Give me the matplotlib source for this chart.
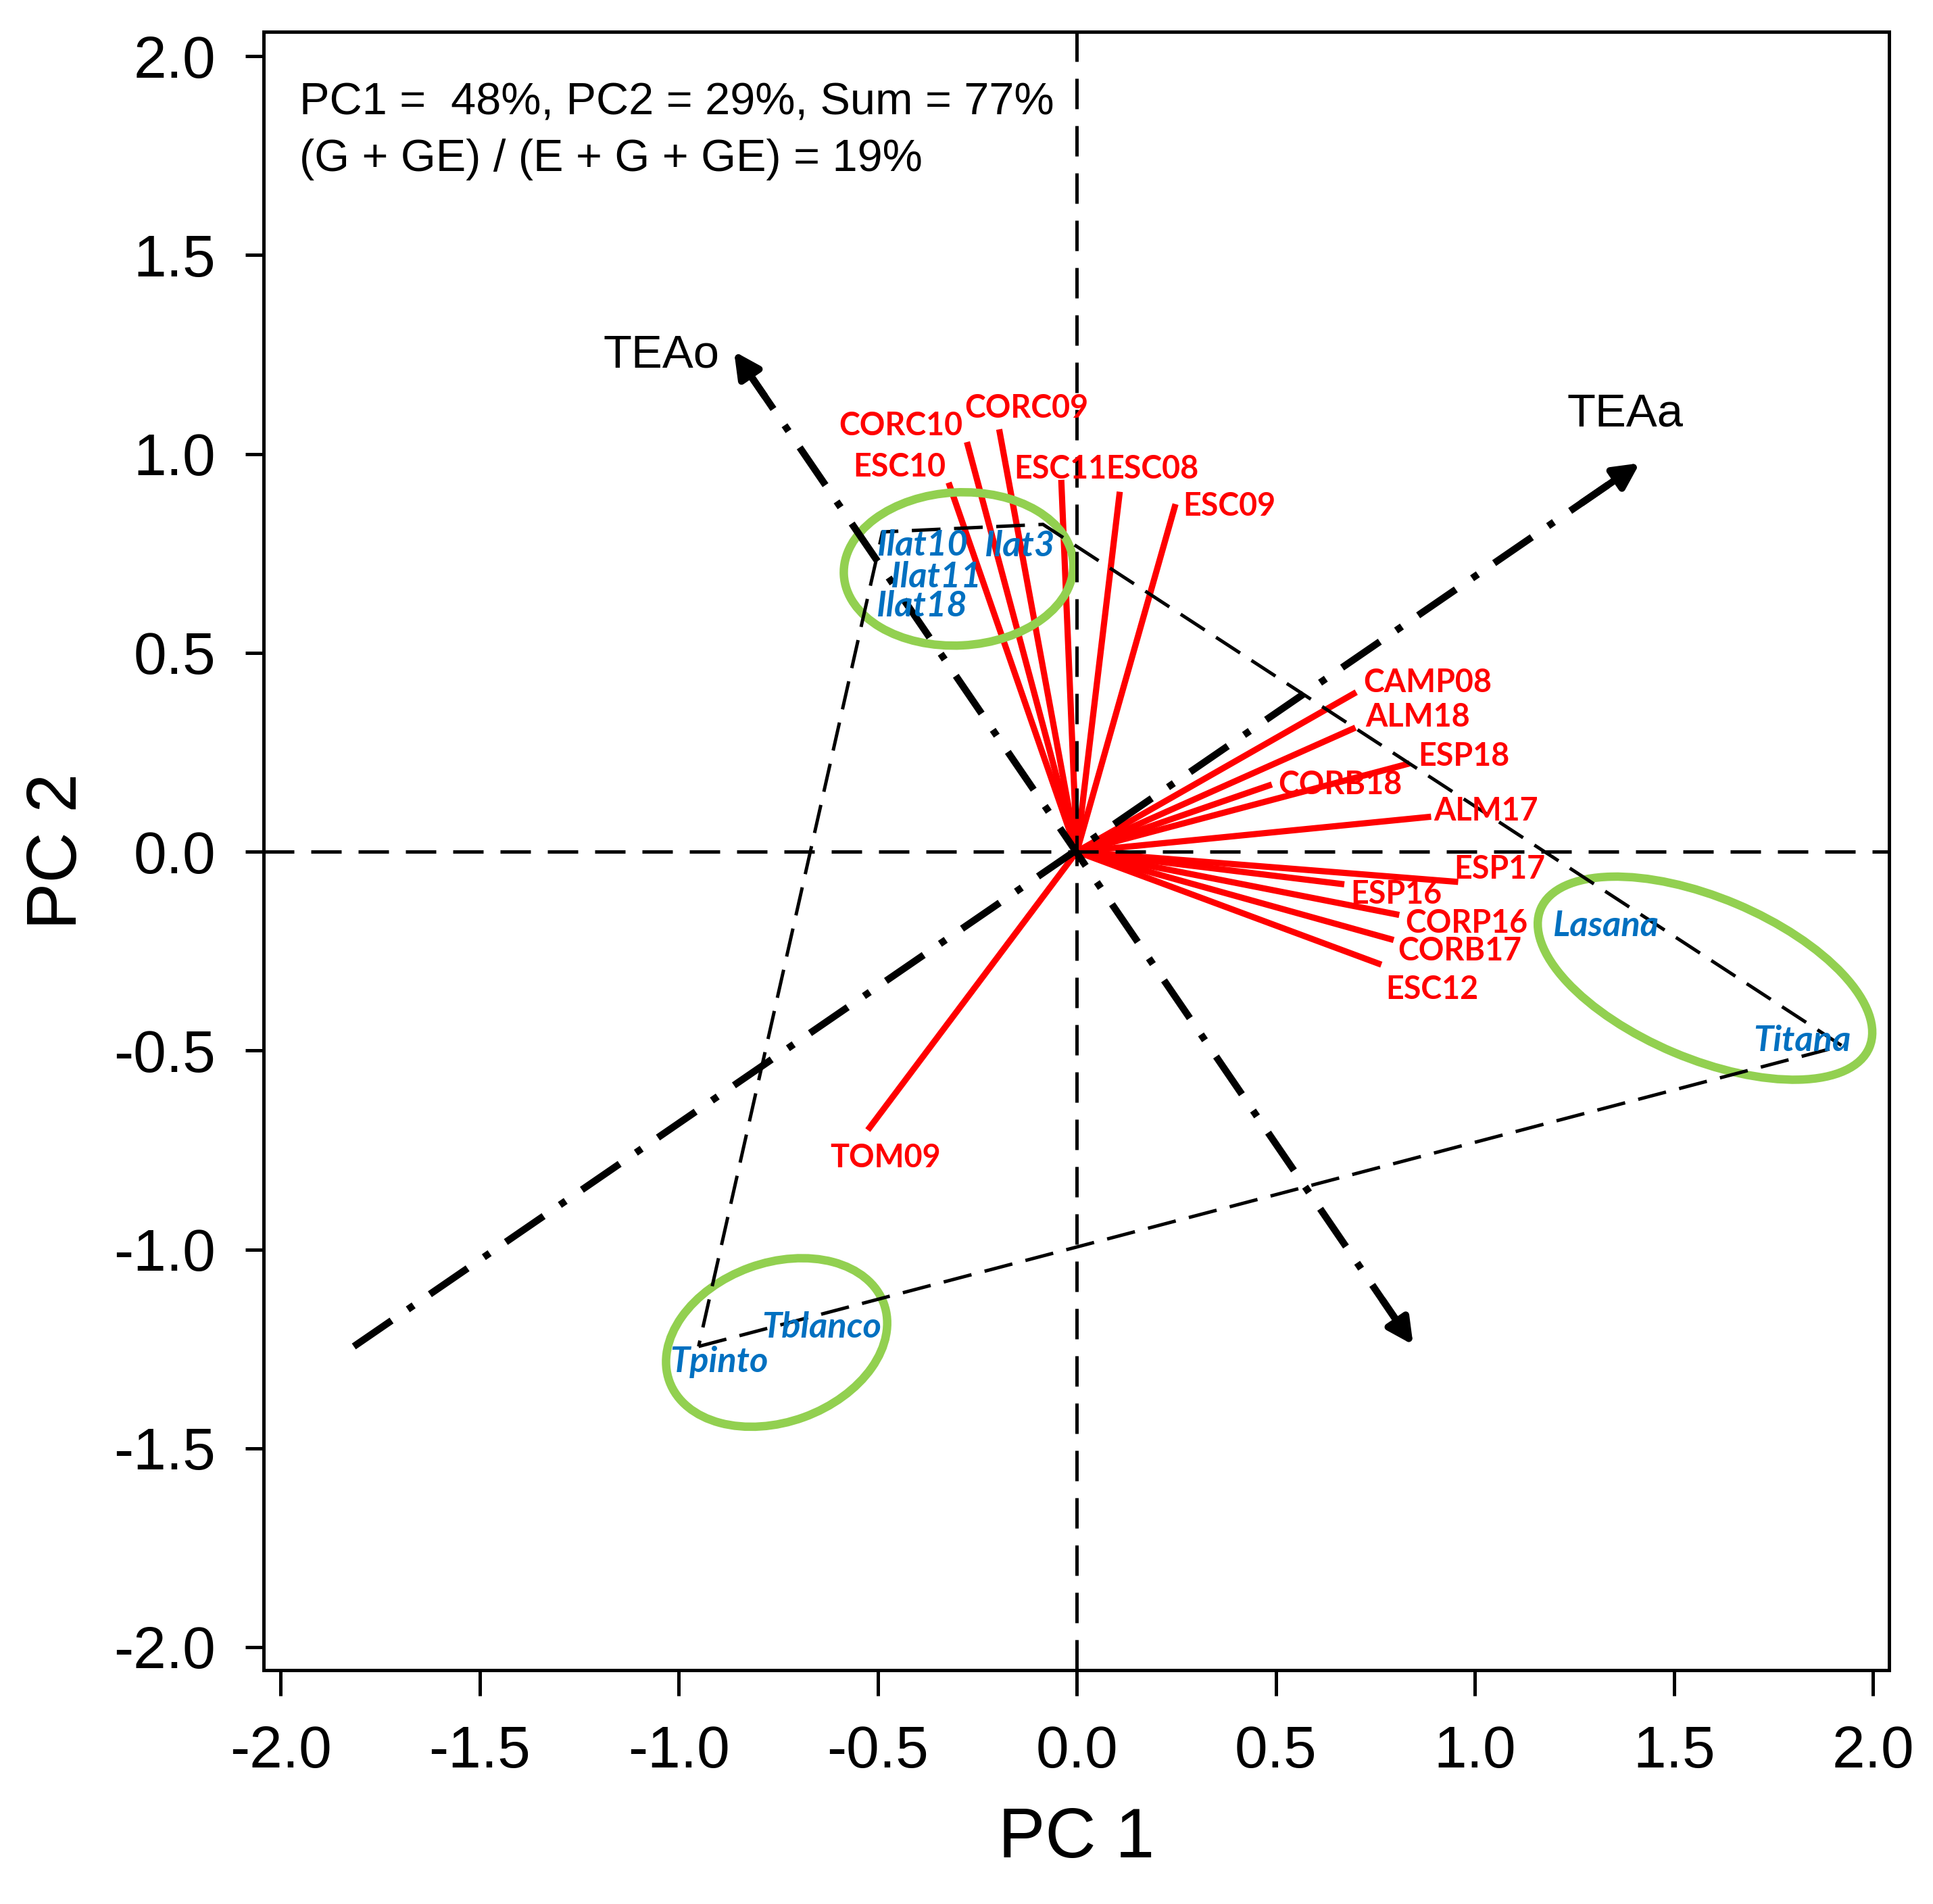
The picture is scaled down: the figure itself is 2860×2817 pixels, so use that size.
import matplotlib.pyplot as plt
from matplotlib.patches import Ellipse

plt.rcParams['font.family'] = ['Liberation Sans', 'DejaVu Sans']
plt.rcParams['axes.unicode_minus'] = False

# environment vectors (red)
env_names = ['CORC10', 'CORC09', 'ESC10', 'ESC11', 'ESC08', 'ESC09', 'CAMP08', 'ALM18', 'ESP18',
             'CORB18', 'ALM17', 'ESP17', 'ESP16', 'CORP16', 'CORB17', 'ESC12', 'TOM09']
env_pc1 = [-0.276, -0.195, -0.322, -0.039, 0.108, 0.248, 0.702, 0.700, 0.836,
           0.490, 0.890, 0.958, 0.672, 0.810, 0.796, 0.765, -0.525]
env_pc2 = [1.030, 1.062, 0.928, 0.935, 0.905, 0.874, 0.401, 0.312, 0.222,
           0.169, 0.088, -0.076, -0.082, -0.159, -0.222, -0.284, -0.700]

# genotypes (blue)
gen_names = ['Ilat10', 'Ilat3', 'Ilat11', 'Ilat18', 'Tpinto', 'Tblanco', 'Lasana', 'Titana']
gen_pc1 = [-0.488, -0.085, -0.46, -0.50, -0.950, -0.79, 1.20, 1.922]
gen_pc2 = [0.804, 0.823, 0.73, 0.655, -1.244, -1.155, -0.15, -0.488]

# average environment axis and its orthogonal
teaa_x = [-1.816, 1.414]
teaa_y = [-1.244, 0.977]
teao_x = [-0.861, 0.845]
teao_y = [1.258, -1.240]

pc1_pct, pc2_pct, ge_pct = 48, 29, 19

# label placement (offset from the point, text baseline)
env_off = {'CORC10': (-0.166, 0.017), 'CORC09': (0.069, 0.029), 'ESC10': (-0.123, 0.016),
           'ESC11': (-0.002, 0.004), 'ESC08': (0.082, 0.034), 'ESC09': (0.135, -0.030),
           'CAMP08': (0.180, 0.000), 'ALM18': (0.156, 0.003), 'ESP18': (0.137, -0.006),
           'CORB18': (0.172, -0.024), 'ALM17': (0.137, -0.010), 'ESP17': (0.104, 0.009),
           'ESP16': (0.130, -0.049), 'CORP16': (0.169, -0.045), 'CORB17': (0.166, -0.051),
           'ESC12': (0.128, -0.087), 'TOM09': (0.044, -0.094)}
gen_off = {'Ilat10': (0.102, -0.060), 'Ilat3': (-0.057, -0.080), 'Ilat11': (0.108, -0.066),
           'Ilat18': (0.111, -0.063), 'Tpinto': (0.052, -0.065), 'Tblanco': (0.150, -0.066),
           'Lasana': (0.130, -0.063), 'Titana': (-0.100, -0.014)}

# green ellipses: center, width, height, angle
groups = [((-0.297, 0.711), 0.577, 0.385, 3),
          ((-0.754, -1.234), 0.573, 0.400, 20),
          ((1.578, -0.318), 0.896, 0.405, -22.9)]


def convex_hull(pts):
    pts = sorted(pts)

    def cross(o, a, b):
        return (a[0] - o[0]) * (b[1] - o[1]) - (a[1] - o[1]) * (b[0] - o[0])
    lower, upper = [], []
    for p in pts:
        while len(lower) >= 2 and cross(lower[-2], lower[-1], p) <= 0:
            lower.pop()
        lower.append(p)
    for p in reversed(pts):
        while len(upper) >= 2 and cross(upper[-2], upper[-1], p) <= 0:
            upper.pop()
        upper.append(p)
    return lower[:-1] + upper[:-1]


fig = plt.figure(figsize=(2860 / 300, 2817 / 300), dpi=300)
ax = fig.add_axes([0.1363, 0.1228, 0.8409, 0.8606])

red = '#FF0000'
blue = '#0070C0'
green = '#92D050'
thin_dash = (0, (9, 5))
dash_dot = (0, (6.5, 2.8, 1, 2.8))

# reference lines
ax.axhline(0, color='k', lw=1.2, ls=thin_dash, zorder=4)
ax.axvline(0, color='k', lw=1.2, ls=thin_dash, zorder=4)

# environment vectors
for x, y in zip(env_pc1, env_pc2):
    ax.plot([0, x], [0, y], color=red, lw=2.2, solid_capstyle='butt', zorder=2)
for name, x, y in zip(env_names, env_pc1, env_pc2):
    dx, dy = env_off[name]
    ax.text(x + dx, y + dy, name, color=red, fontsize=11.2, fontweight='bold',
            family=['Lato', 'DejaVu Sans'], ha='center', va='baseline', zorder=6)

# polygon around genotypes
hull = convex_hull(list(zip(gen_pc1, gen_pc2)))
hx = [p[0] for p in hull] + [hull[0][0]]
hy = [p[1] for p in hull] + [hull[0][1]]
ax.plot(hx, hy, color='k', lw=1.2, ls=(0, (8.5, 4)), zorder=4)

for name, x, y in zip(gen_names, gen_pc1, gen_pc2):
    dx, dy = gen_off[name]
    ax.text(x + dx, y + dy, name, color=blue, fontsize=12.6, fontweight='bold', style='italic',
            family=['Lato', 'DejaVu Sans'], ha='center', va='baseline', zorder=5)

# group ellipses
for c, w, h, a in groups:
    ax.add_patch(Ellipse(c, w, h, angle=a, fill=False, ec=green, lw=3.0, zorder=3))


# TEA axes with arrow heads
def stub(x0, y0, x1, y1, frac):
    return x1 - (x1 - x0) * frac, y1 - (y1 - y0) * frac


def head(x0, y0, x1, y1):
    sx, sy = stub(x0, y0, x1, y1, 0.045)
    ax.annotate('', xy=(x1, y1), xytext=(sx, sy),
                arrowprops=dict(arrowstyle='-|>,head_length=0.75,head_width=0.38', color='k',
                                lw=2.5, mutation_scale=10, shrinkA=0, shrinkB=0), zorder=4)


ea = stub(teaa_x[0], teaa_y[0], teaa_x[1], teaa_y[1], 0.02)
ax.plot([teaa_x[0], ea[0]], [teaa_y[0], ea[1]], color='k', lw=2.5, ls=dash_dot, zorder=4)
head(teaa_x[0], teaa_y[0], teaa_x[1], teaa_y[1])

o1 = stub(teao_x[1], teao_y[1], teao_x[0], teao_y[0], 0.02)
o2 = stub(teao_x[0], teao_y[0], teao_x[1], teao_y[1], 0.02)
ax.plot([o1[0], o2[0]], [o1[1], o2[1]], color='k', lw=2.5, ls=dash_dot, zorder=4)
head(teao_x[1], teao_y[1], teao_x[0], teao_y[0])
head(teao_x[0], teao_y[0], teao_x[1], teao_y[1])

ax.text(-1.044, 1.249, 'TEAo', fontsize=16.5, ha='center', va='center', zorder=6)
ax.text(1.377, 1.100, 'TEAa', fontsize=16.5, ha='center', va='center', zorder=6)

ax.text(-1.953, 1.853, f'PC1 =  {pc1_pct}%, PC2 = {pc2_pct}%, Sum = {pc1_pct + pc2_pct}%',
        fontsize=16, ha='left', va='baseline')
ax.text(-1.953, 1.712, f'(G + GE) / (E + G + GE) = {ge_pct}%',
        fontsize=16, ha='left', va='baseline')

ax.set_xlim(-2.043, 2.040)
ax.set_ylim(-2.058, 2.062)
ticks = [-2.0, -1.5, -1.0, -0.5, 0.0, 0.5, 1.0, 1.5, 2.0]
ax.set_xticks(ticks)
ax.set_yticks(ticks)
ax.set_xticklabels([f'{t:.1f}' for t in ticks])
ax.set_yticklabels([f'{t:.1f}' for t in ticks])
ax.tick_params(axis='both', labelsize=21, width=1.2, direction='out')
ax.tick_params(axis='x', length=9, pad=10.5)
ax.tick_params(axis='y', length=6.5, pad=10.5)
for s in ax.spines.values():
    s.set_linewidth(1.2)

ax.set_xlabel('PC 1', fontsize=25, labelpad=9.5)
ax.set_ylabel('PC 2', fontsize=25, labelpad=8)

fig.savefig('out.png', dpi=300)
